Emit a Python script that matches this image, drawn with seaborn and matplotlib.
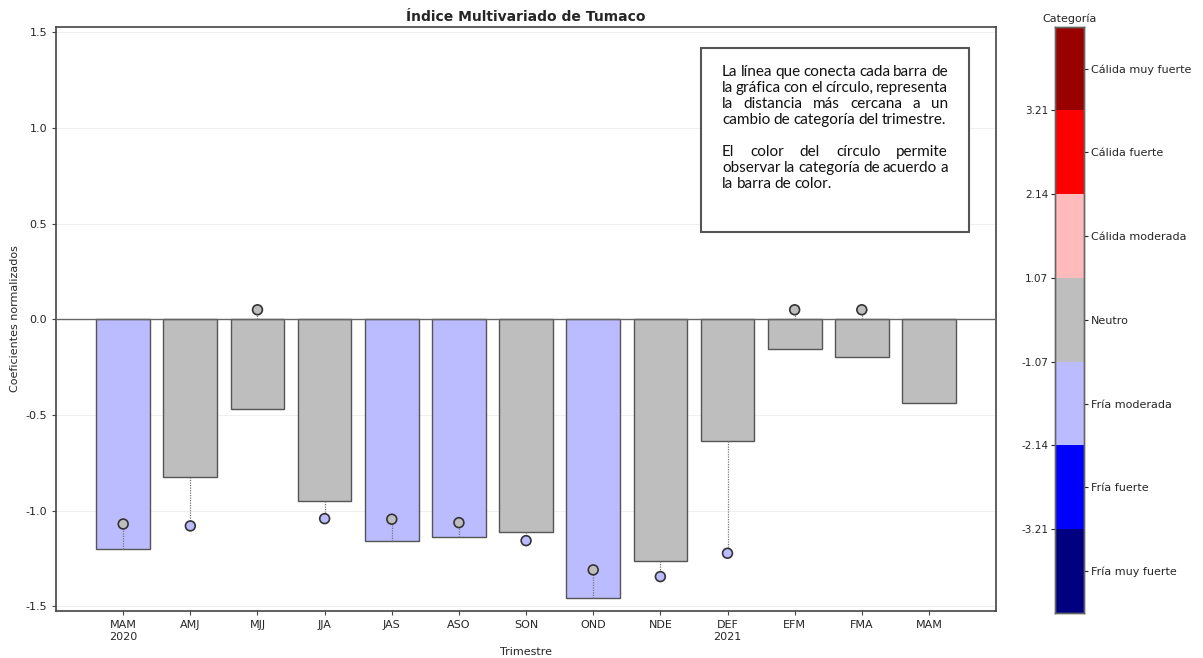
import numpy as np
import pandas as pd
import matplotlib
matplotlib.use("Agg")
import matplotlib.pyplot as plt
import seaborn as sns

# datos del indice por trimestre
trimestres = ["MAM\n2020", "AMJ", "MJJ", "JJA", "JAS", "ASO", "SON",
              "OND", "NDE", "DEF\n2021", "EFM", "FMA", "MAM"]
valores = [-1.20, -0.823, -0.470, -0.948, -1.160, -1.140, -1.113,
           -1.457, -1.265, -0.638, -0.153, -0.199, -0.436]
cat_barra = ["fm", "n", "n", "n", "fm", "fm", "n", "fm", "n", "n", "n", "n", "n"]
circulos = [-1.07, -1.08, 0.05, -1.042, -1.045, -1.063, -1.157,
            -1.31, -1.345, -1.223, 0.05, 0.05, np.nan]
cat_circulo = ["n", "fm", "n", "fm", "n", "n", "fm", "n", "fm", "fm", "n", "n", "n"]

categorias = ["Fría muy fuerte", "Fría fuerte", "Fría moderada", "Neutro",
              "Cálida moderada", "Cálida fuerte", "Cálida muy fuerte"]
colores_cat = ["#000080", "#0000ff", "#bbbbff", "#bebebe",
               "#ffbbbb", "#ff0000", "#990000"]
limites = ["-3.21", "-2.14", "-1.07", "1.07", "2.14", "3.21"]
color_de = {"fm": "#bbbbff", "n": "#bebebe"}

df = pd.DataFrame({"pos": range(len(valores)), "valor": valores,
                   "circulo": circulos})

sns.set_style("ticks")
plt.rcParams["axes.unicode_minus"] = False
fig = plt.figure(figsize=(12.03, 6.58), dpi=100)
ax = fig.add_axes([0.0466, 0.0714, 0.7814, 0.888])

ax.grid(True, color="#efefef", linewidth=0.7, zorder=0)
ax.set_axisbelow(True)

sns.barplot(data=df, x="pos", y="valor", hue="pos",
            palette=[color_de[c] for c in cat_barra], legend=False,
            width=0.8, edgecolor="#555555", linewidth=1.0, saturation=1,
            ax=ax, zorder=2)
ax.axhline(0, color="#666666", linewidth=1.0, zorder=3)

inicio = [0 if c > 0 else v for c, v in zip(circulos, valores)]
ax.vlines(df["pos"], inicio, df["circulo"], colors="#777777",
          linestyles=(0, (1, 1)), linewidth=0.9, zorder=3)
ax.scatter(df["pos"], df["circulo"], s=50,
           c=[color_de[c] for c in cat_circulo],
           edgecolors="#333333", linewidths=1.2, zorder=4)

ax.set_xlim(-1, 13)
ax.set_ylim(-1.525, 1.53)
ax.set_yticks([-1.5, -1.0, -0.5, 0.0, 0.5, 1.0, 1.5])
ax.set_xticks(range(len(trimestres)))
ax.set_xticklabels(trimestres, fontsize=8)
ax.tick_params(axis="y", labelsize=8)
ax.tick_params(length=3, color="#444444")
for s in ax.spines.values():
    s.set_color("#444444")
    s.set_linewidth(1.2)
ax.set_xlabel("Trimestre", fontsize=8)
ax.set_ylabel("Coeficientes normalizados", fontsize=8)
ax.set_title("Índice Multivariado de Tumaco", fontsize=10, fontweight="bold",
             pad=4)

# barra de colores de categorias
cax = fig.add_axes([0.877, 0.0685, 0.024, 0.891])
cax.bar(np.zeros(7), np.ones(7), bottom=np.arange(7), width=1,
        color=colores_cat, linewidth=0)
cax.set_xlim(-0.5, 0.5)
cax.set_ylim(0, 7)
cax.set_xticks([])
cax.set_yticks(np.arange(1, 7))
cax.set_yticklabels(limites, fontsize=7.5)
cax.tick_params(axis="y", length=3, pad=2)
cax2 = cax.twinx()
cax2.set_ylim(0, 7)
cax2.set_yticks(np.arange(7) + 0.5)
cax2.set_yticklabels(categorias, fontsize=8)
cax2.tick_params(axis="y", length=3, pad=2)
for a in (cax, cax2):
    for s in a.spines.values():
        s.set_color("#666666")
        s.set_linewidth(1.0)
cax.set_title("Categoría", fontsize=8, pad=3)

# cuadro de texto justificado
W, H = 1203.0, 658.0
fig.patches.append(plt.Rectangle((701 / W, 1 - 232 / H), 268 / W, 184 / H,
                                 transform=fig.transFigure, facecolor="white",
                                 edgecolor="#555555", linewidth=1.5,
                                 zorder=5))
parrafos = [["La línea que conecta cada barra de",
             "la gráfica con el círculo, representa",
             "la distancia más cercana a un",
             "cambio de categoría del trimestre."],
            ["El color del círculo permite",
             "observar la categoría de acuerdo a",
             "la barra de color."]]
fuente = dict(family="Lato", fontsize=11, color="#111111")
renderer = fig.canvas.get_renderer()
x0, ancho = 722.0, 226.0
y = 72.0
for par in parrafos:
    for i, linea in enumerate(par):
        palabras = linea.split(" ")
        textos = [fig.text(0, 0, p, va="center", ha="left", zorder=6, **fuente)
                  for p in palabras]
        anchos = [t.get_window_extent(renderer).width for t in textos]
        if i < len(par) - 1 and len(palabras) > 1:
            hueco = (ancho - sum(anchos)) / (len(palabras) - 1)
        else:
            hueco = 3.2
        x = x0
        for t, w in zip(textos, anchos):
            t.set_position((x / W, 1 - y / H))
            x += w + hueco
        y += 16
    y += 16

fig.savefig("out.png", dpi=100)
